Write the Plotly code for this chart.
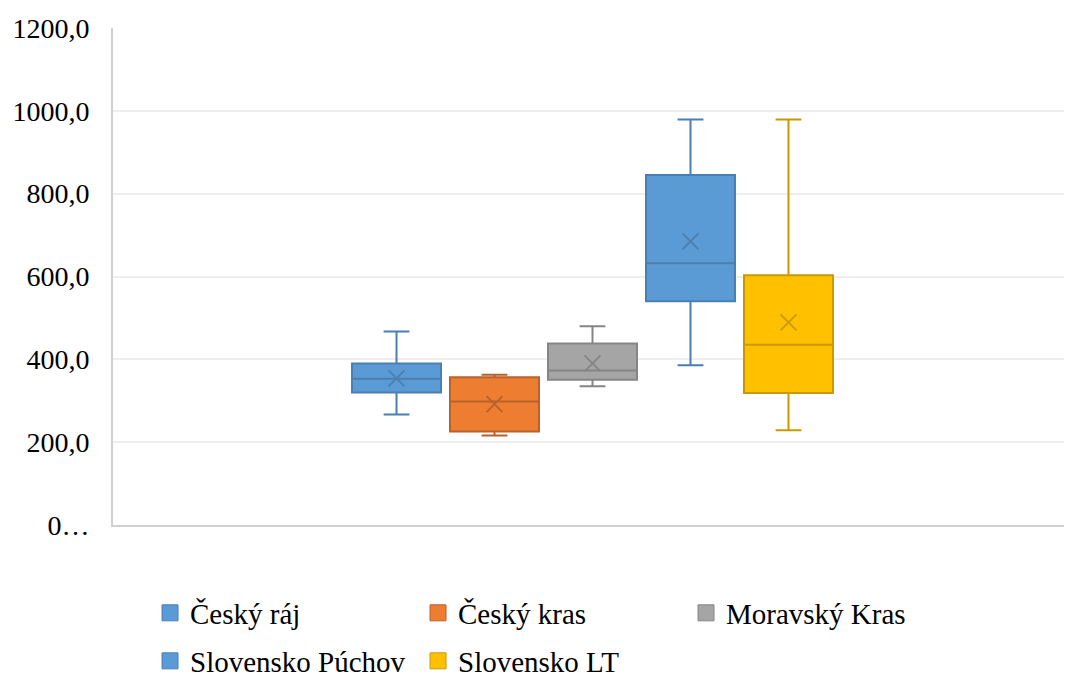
import plotly.graph_objects as go

names = ["Český ráj", "Český kras", "Moravský Kras", "Slovensko Púchov", "Slovensko LT"]
lower = [267, 216, 335, 386, 229]
q1 = [320, 226, 351, 540, 319]
median = [353, 298, 373, 632, 435]
q3 = [390, 357, 438, 845, 603]
upper = [467, 363, 480, 979, 979]
mean = [354, 292, 390, 685, 489]
legend_row = ["legend", "legend", "legend", "legend2", "legend2"]

fills = ["#5B9BD5", "#ED7D31", "#A5A5A5", "#5B9BD5", "#FFC000"]
borders = ["#4A7FB0", "#B9612A", "#858585", "#4A7FB0", "#C99A00"]

tick_vals = [0, 200, 400, 600, 800, 1000, 1200]
tick_text = ["0…", "200,0", "400,0", "600,0", "800,0", "1000,0", "1200,0"]

FONT = "Liberation Serif"

fig = go.Figure()
n = len(names)
positions = [i - (n - 1) / 2 for i in range(n)]

for i in range(n):
    x = positions[i]
    fig.add_trace(go.Box(
        x=[x], q1=[q1[i]], median=[median[i]], q3=[q3[i]],
        lowerfence=[lower[i]], upperfence=[upper[i]],
        width=0.908, whiskerwidth=0.29,
        fillcolor=fills[i], line=dict(color=borders[i], width=2),
        boxpoints=False, showlegend=False, hoverinfo="skip",
    ))
    fig.add_trace(go.Scatter(
        x=[x], y=[mean[i]], mode="markers",
        marker=dict(symbol="x-thin", size=16, line=dict(color=borders[i], width=1.8)),
        showlegend=False, hoverinfo="skip",
    ))

for i in range(n):
    fig.add_trace(go.Scatter(
        x=[None], y=[None], mode="markers", name=names[i], legend=legend_row[i],
        marker=dict(symbol="square", size=16, color=fills[i],
                    line=dict(color=borders[i], width=1)),
    ))

leg_common = dict(orientation="h", x=0.0386, xanchor="left", yanchor="top",
                  entrywidth=223, traceorder="normal", bgcolor="rgba(0,0,0,0)",
                  font=dict(family=FONT, size=29, color="#000000"))

fig.update_layout(
    width=1072, height=677,
    margin=dict(l=105, r=8, t=20, b=160.4, autoexpand=False),
    paper_bgcolor="white", plot_bgcolor="white",
    font=dict(family=FONT, size=28, color="#000000"),
    showlegend=True,
    legend=dict(y=-0.1257, **leg_common),
    legend2=dict(y=-0.2223, **leg_common),
    xaxis=dict(range=[-4.893, 4.893], showticklabels=False, showgrid=False,
               zeroline=False, showline=True, linecolor="#D0D0D0", linewidth=2,
               fixedrange=True),
    yaxis=dict(range=[0, 1200], tickvals=tick_vals, ticktext=tick_text,
               showgrid=True, gridcolor="#EEEEEE", gridwidth=2,
               zeroline=False, showline=True, linecolor="#D0D0D0", linewidth=2,
               ticks="", ticklabelstandoff=16,
               tickfont=dict(family=FONT, size=28, color="#000000")),
)

fig.write_html("out.html")
